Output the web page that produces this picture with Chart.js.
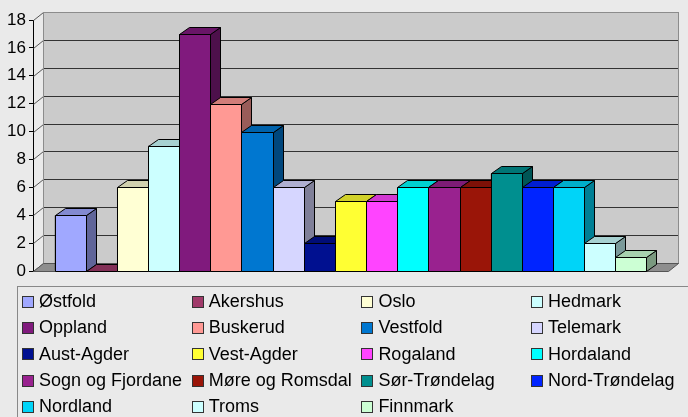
<!DOCTYPE html>
<html>
<head>
<meta charset="utf-8">
<script src="https://cdn.jsdelivr.net/npm/chart.js@4/dist/chart.umd.min.js"></script>
<style>
  html, body { margin: 0; padding: 0; background: #eaeaea; }
  #wrap { position: relative; width: 688px; height: 417px; overflow: hidden; font-family: "Liberation Sans", Arial, sans-serif; }
  #chartBox { position: absolute; left: 0; top: 0; width: 688px; height: 290px; }
  #legend {
    position: absolute; left: 17px; top: 286px; width: 700px; height: 160px;
    border: 1px solid #888; box-sizing: border-box;
    display: grid; grid-template-columns: repeat(4, 169.7px); grid-auto-rows: 26.3px;
    padding: 1.5px 0 0 4px;
  }
  .item { display: flex; align-items: center; font-size: 18px; color: #000; white-space: nowrap; }
  .sw { width: 10px; height: 10px; border: 1px solid #333; margin-right: 5px; flex: none; }
</style>
</head>
<body>
<div id="wrap">
  <div id="chartBox"><canvas id="regionChart" width="688" height="290"></canvas></div>
  <div id="legend"></div>
</div>
<script>
"use strict";

// Regions (one bar each) and their counts
const regions = ["Østfold", "Akershus", "Oslo", "Hedmark", "Oppland", "Buskerud", "Vestfold",
    "Telemark", "Aust-Agder", "Vest-Agder", "Rogaland", "Hordaland", "Sogn og Fjordane",
    "Møre og Romsdal", "Sør-Trøndelag", "Nord-Trøndelag", "Nordland", "Troms", "Finnmark"];
const counts = [4, 0, 6, 9, 17, 12, 10, 6, 2, 5, 5, 6, 6, 6, 7, 6, 6, 2, 1];
const colors = ["#a0a8ff", "#a03a6a", "#ffffd4", "#ccffff", "#801a7d", "#ff9994", "#0077d0",
    "#d6d6ff", "#001090", "#ffff33", "#ff44ff", "#00ffff", "#99228f",
    "#9a1508", "#008f8f", "#0024ff", "#00d4f8", "#ccffff", "#ccffd4"];
const yMax = 18;
const yStep = 2;

// depth of the 3D look
const DX = 10, DY = -7;
const WALL_DX = 10, WALL_DY = -8;

function shade(hex, f) {
    const n = parseInt(hex.slice(1), 16);
    const r = Math.round(((n >> 16) & 255) * f);
    const g = Math.round(((n >> 8) & 255) * f);
    const b = Math.round((n & 255) * f);
    return "rgb(" + r + "," + g + "," + b + ")";
}

function poly(ctx, pts, fill, stroke) {
    ctx.beginPath();
    ctx.moveTo(pts[0][0], pts[0][1]);
    for (let i = 1; i < pts.length; i++) ctx.lineTo(pts[i][0], pts[i][1]);
    ctx.closePath();
    ctx.fillStyle = fill;
    ctx.fill();
    if (stroke) {
        ctx.strokeStyle = stroke;
        ctx.lineWidth = 1;
        ctx.stroke();
    }
}

// back wall, floor and grid lines behind the bars
const wallPlugin = {
    id: 'wall3d',
    beforeDatasetsDraw(chart) {
        const ctx = chart.ctx;
        const a = chart.chartArea;
        const y = chart.scales.y;
        const L = Math.round(a.left) + 0.5, R = Math.round(a.right) + 0.5;
        const T = Math.round(a.top) + 0.5, B = Math.round(a.bottom) + 0.5;
        ctx.save();
        // back wall
        ctx.fillStyle = "#cbcbcb";
        ctx.fillRect(L + WALL_DX, T + WALL_DY, R - L, B - T);
        // grid lines on the wall + diagonal ticks on the side wall
        for (let v = yStep; v < yMax; v += yStep) {
            const py = Math.round(y.getPixelForValue(v)) + 0.5;
            ctx.strokeStyle = "#333";
            ctx.beginPath();
            ctx.moveTo(L + WALL_DX, py + WALL_DY);
            ctx.lineTo(R + WALL_DX, py + WALL_DY);
            ctx.stroke();
        }
        ctx.strokeStyle = "#555";
        for (let v = 0; v <= yMax; v += yStep) {
            const py = Math.round(y.getPixelForValue(v)) + 0.5;
            ctx.beginPath();
            ctx.moveTo(L, py);
            ctx.lineTo(L + WALL_DX, py + WALL_DY);
            ctx.stroke();
        }
        // wall outline
        ctx.strokeStyle = "#8c8c8c";
        ctx.strokeRect(L + WALL_DX, T + WALL_DY, R - L, B - T);
        // floor
        poly(ctx, [[L, B], [R, B], [R + WALL_DX, B + WALL_DY], [L + WALL_DX, B + WALL_DY]], "#8e8e8e", "#555");
        ctx.restore();
    },
    afterDatasetsDraw(chart) {
        const ctx = chart.ctx;
        ctx.save();
        chart.data.datasets.forEach((ds, i) => {
            const bar = chart.getDatasetMeta(i).data[0];
            const x0 = Math.round(bar.x - bar.width / 2) + 0.5;
            const x1 = Math.round(bar.x + bar.width / 2) + 0.5;
            const top = Math.round(bar.y) + 0.5;
            const base = Math.round(bar.base) + 0.5;
            const c = colors[i];
            // side face
            poly(ctx, [[x1, top], [x1 + DX, top + DY], [x1 + DX, base + DY], [x1, base]], shade(c, 0.6), "#000");
            // top face
            poly(ctx, [[x0, top], [x1, top], [x1 + DX, top + DY], [x0 + DX, top + DY]], shade(c, 0.82), "#000");
            // front face
            if (base - top > 0.5) {
                poly(ctx, [[x0, top], [x1, top], [x1, base], [x0, base]], c, "#000");
            }
        });
        ctx.restore();
    }
};

const datasets = regions.map((name, i) => ({
    label: name,
    data: [counts[i]],
    backgroundColor: colors[i],
    borderColor: '#000',
    borderWidth: 1,
    barPercentage: 1,
    categoryPercentage: 0.932
}));

new Chart(document.getElementById('regionChart'), {
    type: 'bar',
    data: { labels: [''], datasets: datasets },
    options: {
        responsive: false,
        animation: false,
        layout: { padding: { top: 20, bottom: 19, left: 0, right: 20 } },
        plugins: { legend: { display: false }, tooltip: { enabled: false } },
        scales: {
            x: { display: false },
            y: {
                min: 0,
                max: yMax,
                afterFit: function(scale) { scale.width = 33; },
                ticks: {
                    stepSize: yStep,
                    color: '#000',
                    padding: 3,
                    font: { family: '"Liberation Sans", Arial, sans-serif', size: 17 }
                },
                grid: { drawOnChartArea: false, tickLength: 4, color: '#000' },
                border: { color: '#000' }
            }
        }
    },
    plugins: [wallPlugin]
});

// legend, four columns
const legendEl = document.getElementById('legend');
regions.forEach((name, i) => {
    const item = document.createElement('div');
    item.className = 'item';
    const sw = document.createElement('span');
    sw.className = 'sw';
    sw.style.background = colors[i];
    item.appendChild(sw);
    item.appendChild(document.createTextNode(name));
    legendEl.appendChild(item);
});
</script>
</body>
</html>
